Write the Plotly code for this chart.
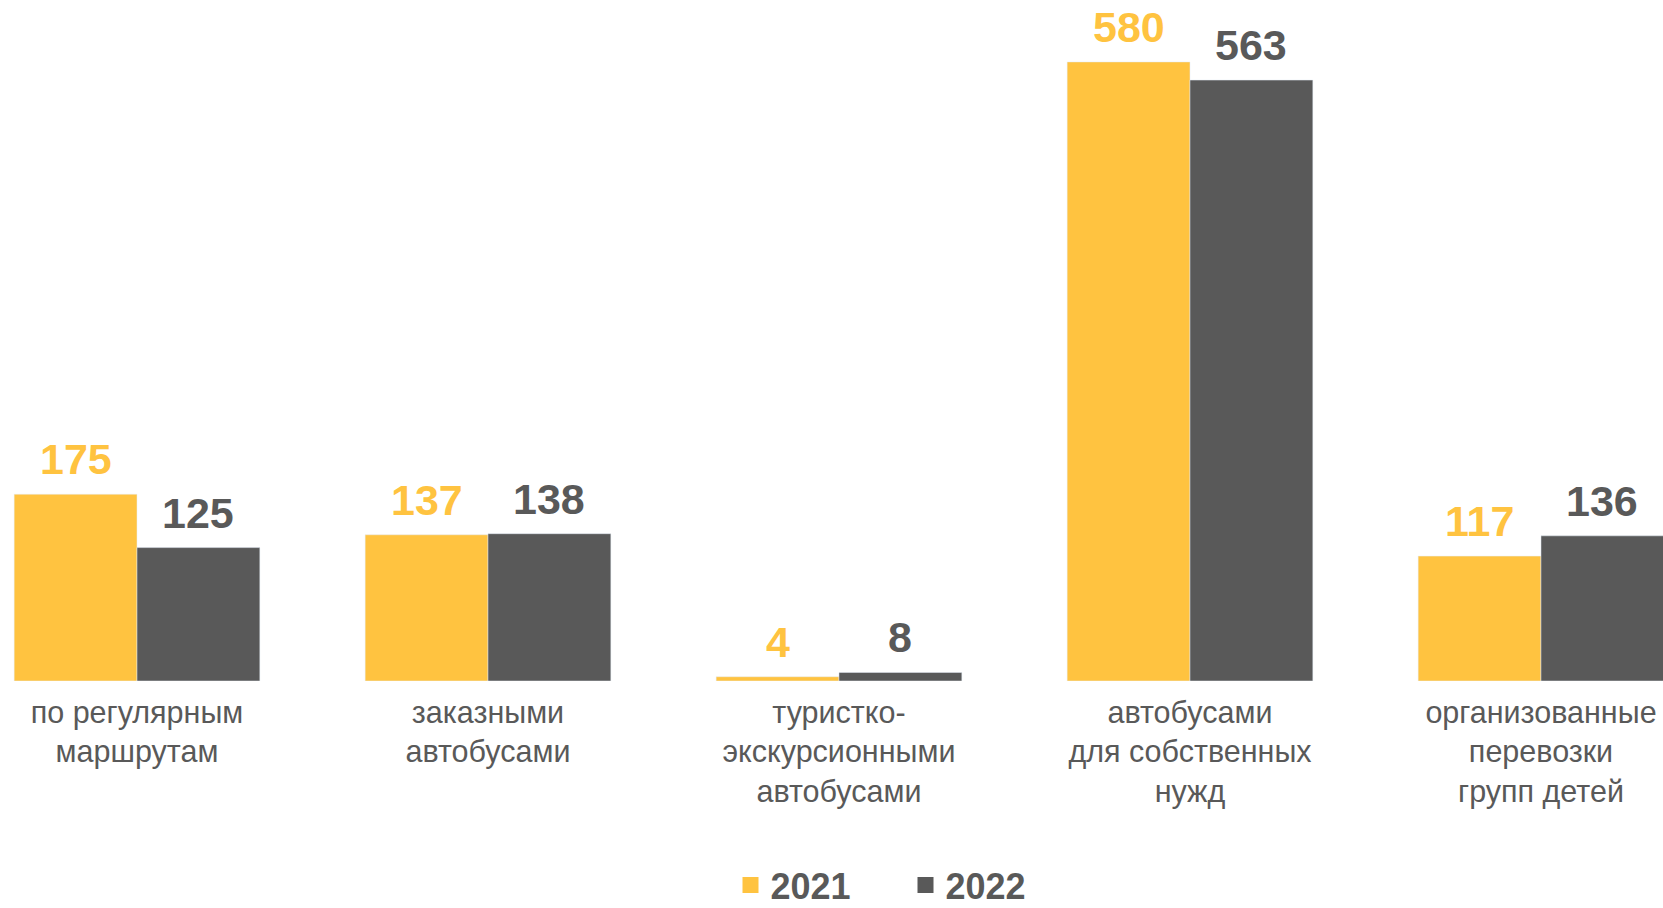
import plotly.graph_objects as go

categories = ["по регулярным<br>маршрутам", "заказными<br>автобусами",
              "туристко-<br>экскурсионными<br>автобусами",
              "автобусами<br>для собственных<br>нужд",
              "организованные<br>перевозки<br>групп детей"]
years = ["2021", "2022"]
values_2021 = [175, 137, 4, 580, 117]
values_2022 = [125, 138, 8, 563, 136]

YELLOW = "#FFC340"
DARK = "#595959"
FONT = "Liberation Sans, Arial, sans-serif"

x = list(range(len(categories)))
fig = go.Figure()
fig.add_trace(go.Bar(x=x, y=values_2021, marker_color=YELLOW, showlegend=False, name=years[0]))
fig.add_trace(go.Bar(x=x, y=values_2022, marker_color=DARK, showlegend=False, name=years[1]))
# legend entries with larger square markers
for name, col in zip(years, [YELLOW, DARK]):
    fig.add_trace(go.Scatter(x=[None], y=[None], mode="markers", name=name,
                             marker=dict(symbol="square", size=19, color=col)))

off = 0.175
for i in x:
    fig.add_annotation(x=i - off, y=values_2021[i], text=f"<b>{values_2021[i]}</b>",
                       showarrow=False, yanchor="middle", yshift=35,
                       font=dict(family=FONT, size=43, color=YELLOW))
    fig.add_annotation(x=i + off, y=values_2022[i], text=f"<b>{values_2022[i]}</b>",
                       showarrow=False, yanchor="middle", yshift=35,
                       font=dict(family=FONT, size=43, color=DARK))

fig.update_layout(
    width=1663, height=908,
    margin=dict(l=0, r=0, t=0, b=227, autoexpand=False),
    plot_bgcolor="white", paper_bgcolor="white",
    barmode="group", bargap=0.3, bargroupgap=0,
    xaxis=dict(range=[-0.3903, 4.3476], tickvals=x, ticktext=categories,
               showgrid=False, zeroline=False, showline=False, ticks="",
               tickfont=dict(family=FONT, size=30.5, color=DARK), ticklabelstandoff=10,
               automargin=False),
    yaxis=dict(range=[0, 638], visible=False),
    legend=dict(orientation="h", x=0.5445, xanchor="center",
                yref="container", y=1 - 885 / 908, yanchor="middle",
                font=dict(family=FONT, size=36, color=DARK, weight="bold"),
                itemsizing="trace", entrywidth=130),
)
fig.write_html("out.html")
